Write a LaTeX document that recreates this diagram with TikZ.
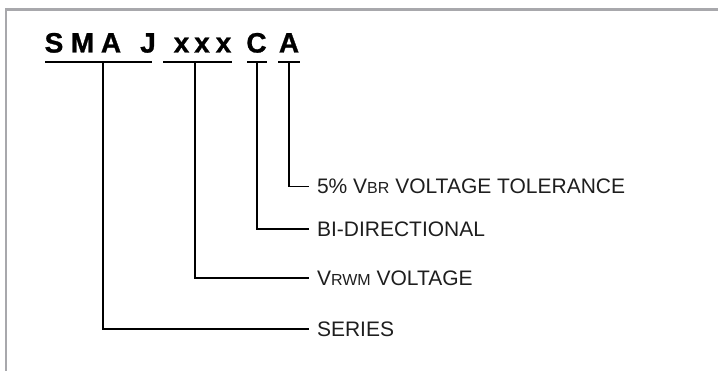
\documentclass[tikz,border=0pt]{standalone}
\usepackage{fontspec}
\setmainfont{Liberation Sans}
\newfontfamily\heavyfont[BoldFeatures={FakeBold=1.0}]{Liberation Sans}
\definecolor{framegray}{RGB}{168,168,172}
\definecolor{labelink}{RGB}{30,30,30}
\begin{document}
\begin{tikzpicture}[x=1pt,y=-1pt,
  letter/.style={anchor=base,inner sep=0pt,font=\heavyfont\bfseries\fontsize{28}{30}\selectfont},
  conn/.style={line width=1.6pt,black},
  uline/.style={line width=1.8pt,black},
  lbl/.style={anchor=west,inner xsep=0pt,inner ysep=0pt,outer xsep=8pt,outer ysep=0pt,
    text height=15pt,text depth=0pt,font=\fontsize{21}{24}\selectfont,text=labelink}]
\useasboundingbox (0,0) rectangle (718,371);
% frame
\draw[framegray,line width=2.2pt] (6,371) -- (6,9.5) -- (718,9.5);
% code letters
\node[letter] (cS) at (54,52.5) {S};
\node[letter] (cM) at (82.5,52.5) {M};
\node[letter] (cA1) at (111,52.5) {A};
\node[letter] (cJ) at (148,52.5) {J};
\node[letter] (x1) at (181.5,52.5) {x};
\node[letter] (x2) at (202,52.5) {x};
\node[letter] (x3) at (223.5,52.5) {x};
\node[letter] (cC) at (256.5,52.5) {C};
\node[letter] (cA2) at (289,52.5) {A};
% underlines
\coordinate (s1) at (45,62);  \coordinate (e1) at (152,62);
\coordinate (s2) at (163,62); \coordinate (e2) at (232,62);
\coordinate (s3) at (247,62); \coordinate (e3) at (267,62);
\coordinate (s4) at (278,62); \coordinate (e4) at (300,62);
\draw[uline] (s1) -- (e1);
\draw[uline] (s2) -- (e2);
\draw[uline] (s3) -- (e3);
\draw[uline] (s4) -- (e4);
% tap points
\coordinate (t1) at (103,62);
\coordinate (t2) at (195,62);
\coordinate (t3) at (257,62);
\coordinate (t4) at (289,62);
% labels
\node[lbl] (tol) at (309,186.5) {5\% V{\fontsize{16}{18}\selectfont BR} VOLTAGE TOLERANCE};
\node[lbl] (bi) at (309,229) {BI-DIRECTIONAL};
\node[lbl] (vr) at (309,278) {V{\fontsize{16}{18}\selectfont RWM} VOLTAGE};
\node[lbl] (ser) at (309,329) {SERIES};
% connectors
\draw[conn] (t4) |- (tol.west);
\draw[conn] (t3) |- (bi.west);
\draw[conn] (t2) |- (vr.west);
\draw[conn] (t1) |- (ser.west);
\end{tikzpicture}
\end{document}
